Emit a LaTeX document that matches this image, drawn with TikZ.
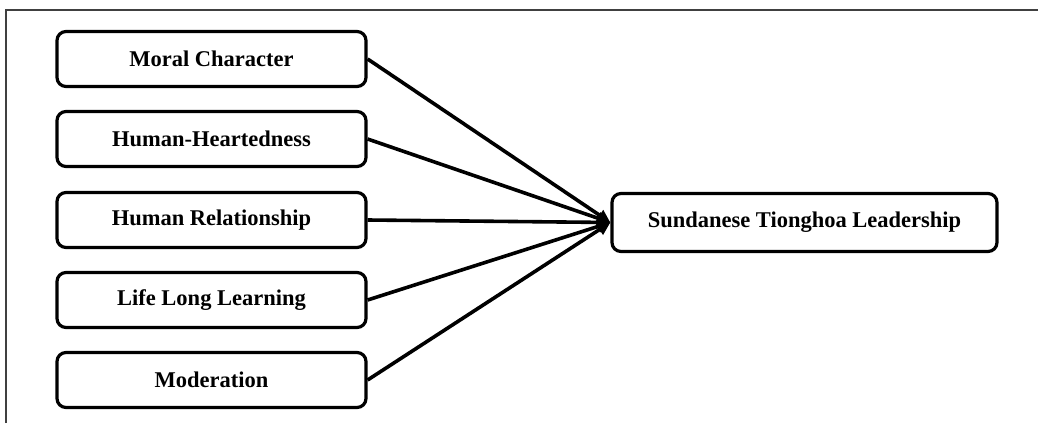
\documentclass[tikz,border=0pt]{standalone}
\usepackage{fontspec}
\setmainfont{Liberation Serif}
\usetikzlibrary{arrows.meta}
\begin{document}
\begin{tikzpicture}[x=1pt,y=-1pt,
  factor/.style={draw=black,line width=3.2pt,rounded corners=9pt,minimum width=309pt,minimum height=55pt,inner sep=0pt,font=\fontsize{22.5}{26}\selectfont\bfseries},
  target/.style={draw=black,line width=3.2pt,rounded corners=9pt,minimum width=385pt,minimum height=58pt,inner sep=0pt,font=\fontsize{22.5}{26}\selectfont\bfseries},
  conn/.style={line width=3.6pt,-{Triangle[length=13pt,width=12pt]}}]
\useasboundingbox (0,0) rectangle (1038,423);
\draw[line width=1.5pt,draw=black!75] (6,423) -- (6,10) -- (1038,10);
\node[factor] (a) at (211.5,59) {Moral Character};
\node[factor] (b) at (211.5,139) {Human-Heartedness};
\node[factor] (c) at (211.5,220) {Human Relationship};
\node[factor] (d) at (211.5,300) {Life Long Learning};
\node[factor] (e) at (211.5,380) {Moderation};
\node[target] (t) at (804.5,222.5) {Sundanese Tionghoa Leadership};
\foreach \n in {a,b,c,d,e} \draw[conn] (\n.east) -- (t.west);
\end{tikzpicture}
\end{document}
